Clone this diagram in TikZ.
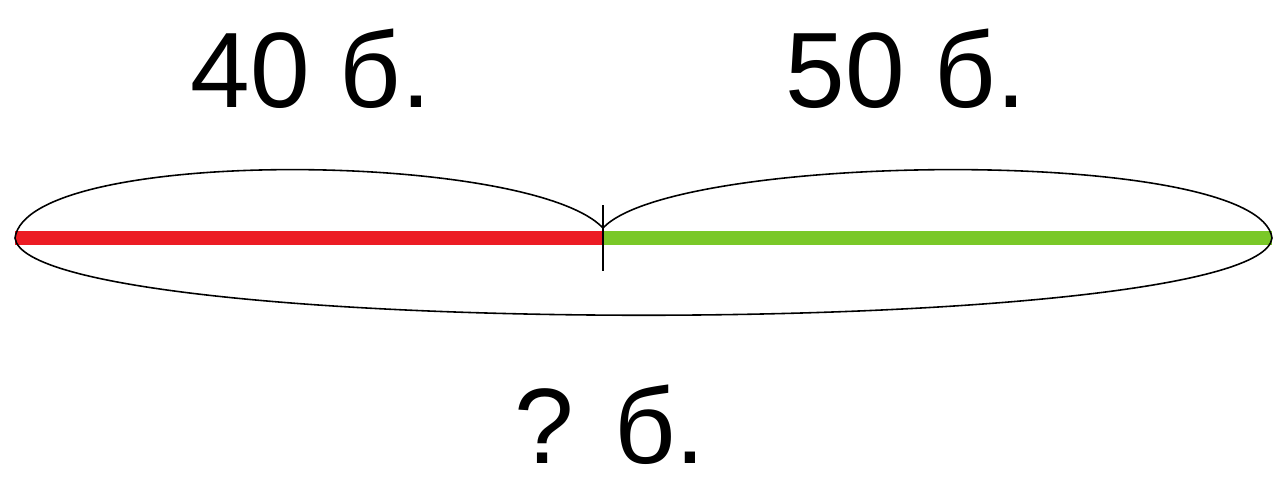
\documentclass[tikz,border=0pt]{standalone}
\usepackage{fontspec}
\setmainfont{Liberation Sans}
\usepackage{xcolor}
\usetikzlibrary{positioning}
\definecolor{segred}{RGB}{236,28,36}
\definecolor{seggreen}{RGB}{122,200,40}
\begin{document}
\begin{tikzpicture}[
seg/.style={line width=7.4pt},
arc/.style={draw, line width=0.9pt},
lbl/.style={anchor=base, inner sep=0pt, font=\fontsize{61}{61}\selectfont}
]
\useasboundingbox (0,0) rectangle (25.46,9.52);
\coordinate (a) at (0.30,4.76);
\coordinate (m) at (12.06,4.76);
\coordinate (b) at (25.44,4.76);
\coordinate (c) at (12.06,4.96);
\coordinate (t1) at (12.06,5.42);
\coordinate (t2) at (12.06,4.10);
\draw[seg, segred] (a) -- (m);
\draw[seg, seggreen] (m) -- (b);
\draw[line width=0.9pt] (t1) -- (t2);
\draw[arc] (a) .. controls (0.55,6.6) and (10.6,6.5) .. (c);
\draw[arc] (c) .. controls (13.5,6.5) and (25.2,6.6) .. (b);
\draw[arc] (a) .. controls (0.55,2.7) and (25.2,2.7) .. (b);
\node[lbl] (n40) at (6.22,7.36) {40 б.};
\node[lbl] (n50) at (18.12,7.36) {50 б.};
\node[lbl] (nsum) at (12.20,0.26) {? б.};
\end{tikzpicture}
\end{document}
